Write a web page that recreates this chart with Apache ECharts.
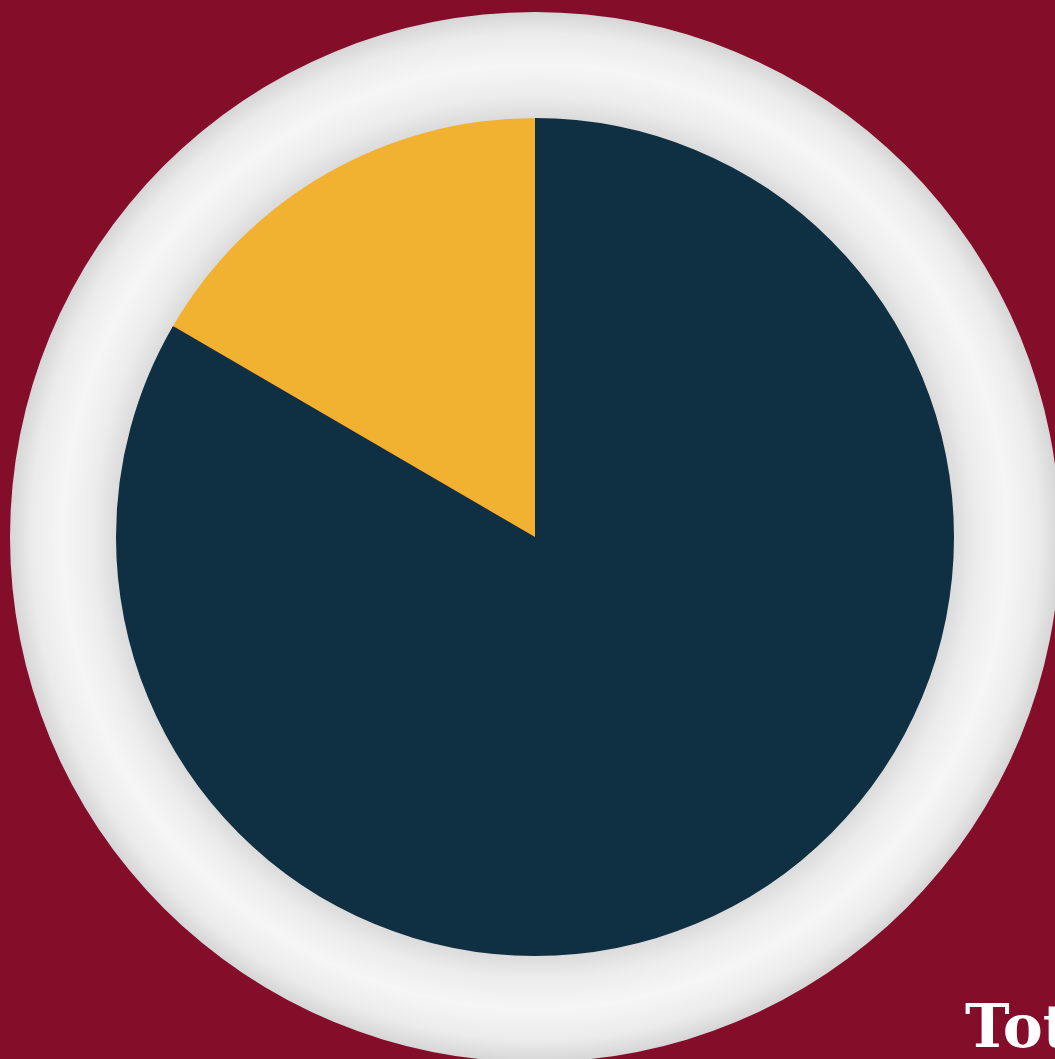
<!DOCTYPE html>
<html>
<head>
<meta charset="utf-8">
<script src="https://cdn.jsdelivr.net/npm/echarts@6/dist/echarts.min.js"></script>
<style>
  html, body { margin: 0; padding: 0; background: #840d2a; }
  #chart { width: 1055px; height: 1059px; }
</style>
</head>
<body>
<div id="chart"></div>
<script>
// slices (navy ~300deg, yellow ~60deg)
const sliceNames = ["Rest", "Share"];
const sliceValues = [83.4, 16.6];
const sliceColors = ["#0f2f43", "#f2b231"];
const titleText = "Total";

const chart = echarts.init(document.getElementById("chart"));

chart.setOption({
  backgroundColor: "#840d2a",
  animation: false,
  title: {
    text: titleText,
    left: 960,
    top: 996,
    textStyle: {
      color: "#ffffff",
      fontFamily: "DejaVu Serif",
      fontWeight: "bold",
      fontSize: 60
    }
  },
  series: [
    {
      // light ring around the pie
      type: "pie",
      silent: true,
      center: [535, 537],
      radius: [417, 525],
      label: { show: false },
      labelLine: { show: false },
      data: [{
        value: 1,
        itemStyle: {
          color: {
            type: "radial", x: 0.5, y: 0.5, r: 0.5,
            colorStops: [
              { offset: 0.79, color: "#d8d8d8" },
              { offset: 0.84, color: "#ececec" },
              { offset: 0.90, color: "#f6f6f6" },
              { offset: 0.96, color: "#ebebeb" },
              { offset: 1.0, color: "#d6d6d6" }
            ]
          }
        }
      }]
    },
    {
      type: "pie",
      center: [535, 537],
      radius: [0, 419],
      startAngle: 90,
      clockwise: true,
      label: { show: false },
      labelLine: { show: false },
      data: sliceNames.map((n, i) => ({
        name: n,
        value: sliceValues[i],
        itemStyle: { color: sliceColors[i] }
      }))
    }
  ]
});
</script>
</body>
</html>
